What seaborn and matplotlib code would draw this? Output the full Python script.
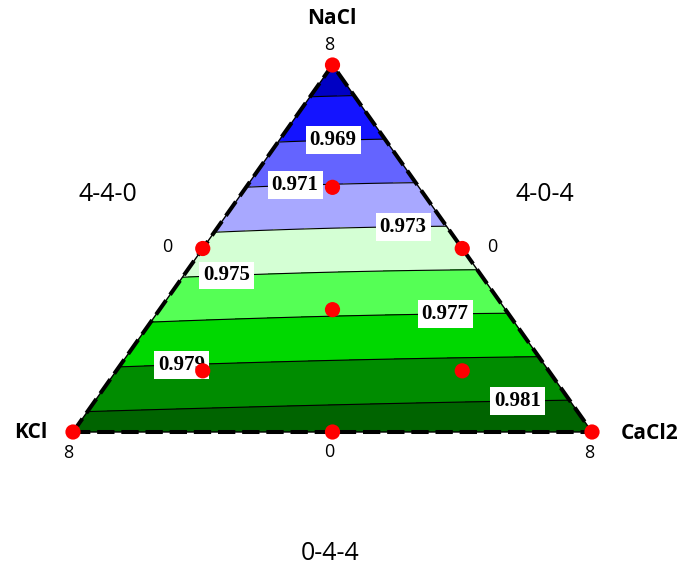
import numpy as np
import pandas as pd
import matplotlib
matplotlib.use("Agg")
import matplotlib.pyplot as plt
from matplotlib.patches import Polygon
import seaborn as sns

# Simplex-lattice design points (component fractions) and measured response
nacl = [1.0, 0.0, 0.0, 0.5, 0.5, 0.0, 1/3, 2/3, 1/6, 1/6]
kcl = [0.0, 1.0, 0.0, 0.5, 0.0, 0.5, 1/3, 1/6, 2/3, 1/6]
cacl2 = [0.0, 0.0, 1.0, 0.0, 0.5, 0.5, 1/3, 1/6, 1/6, 2/3]
response = [0.96557, 0.98193, 0.98247, 0.97371, 0.97400, 0.98223,
            0.97668, 0.97123, 0.97927, 0.97959]

# Contour levels, labelled levels and band colours
levels = [0.967, 0.969, 0.971, 0.973, 0.975, 0.977, 0.979, 0.981]
label_levels = [0.969, 0.971, 0.973, 0.975, 0.977, 0.979, 0.981]
band_colors = ["#0000C4", "#1414FF", "#6464FF", "#A8A8FF", "#D4FFD4",
               "#55FF55", "#00D800", "#008C00", "#006400"]

sns.set_theme(style="white")
plt.rcParams["font.family"] = ["Open Sans", "DejaVu Sans"]
plt.rcParams["text.color"] = "black"


def to_xy(na, ca):
    na = np.asarray(na, float)
    ca = np.asarray(ca, float)
    return ca + na / 2.0, na


def special_cubic_terms(a, b, c):
    return np.column_stack([a, b, c, a * b, a * c, b * c, a * b * c])


# Scheffe special-cubic mixture model fitted to the design responses
A = special_cubic_terms(np.array(nacl), np.array(kcl), np.array(cacl2))
coef, *_ = np.linalg.lstsq(A, np.array(response), rcond=None)

gx, gy = np.meshgrid(np.linspace(-0.05, 1.05, 400), np.linspace(-0.05, 1.05, 400))
g_na = gy
g_ca = gx - gy / 2.0
g_k = 1.0 - g_na - g_ca
Z = (special_cubic_terms(g_na.ravel(), g_k.ravel(), g_ca.ravel()) @ coef).reshape(gx.shape)

fig = plt.figure(figsize=(6.81, 5.66), dpi=100)
ax = fig.add_axes([0, 0, 1, 1])

tri = Polygon([(0, 0), (1, 0), (0.5, 1)], closed=True, facecolor="none",
              edgecolor="none", transform=ax.transData)
ax.add_patch(tri)

cf = ax.contourf(gx, gy, Z, levels=levels, colors=band_colors, extend="both")
cf.set_clip_path(tri)
cl = ax.contour(gx, gy, Z, levels=levels, colors="black", linewidths=0.8)
cl.set_clip_path(tri)

# Invisible contour set carrying only the labelled levels
cl_lab = ax.contour(gx, gy, Z, levels=label_levels, colors="black", linewidths=0)
cl_lab.set_clip_path(tri)

# Triangle outline
tx, ty = [0, 1, 0.5, 0], [0, 0, 1, 0]
ax.plot(tx, ty, color="black", lw=1.0, zorder=3)
ax.plot(tx, ty, color="black", lw=2.9, dashes=(4.3, 1.7), zorder=3,
        solid_capstyle="butt")

# Contour labels in white boxes
label_spots = [(0.501, 0.798), (0.428, 0.673), (0.636, 0.559), (0.295, 0.431),
               (0.717, 0.322), (0.210, 0.180), (0.857, 0.087)]
texts = ax.clabel(cl_lab, manual=label_spots, inline=False,
                  fmt="%.3f", fontsize=15, colors="black")
for t in texts:
    t.set_rotation(0)
    t.set_fontfamily("Liberation Serif")
    t.set_fontweight("bold")
    t.set_bbox(dict(facecolor="white", edgecolor="none", pad=2.8))
    t.set_zorder(4)

# Design points
px, py = to_xy(nacl, cacl2)
pts = pd.DataFrame({"x": px, "y": py})
sns.scatterplot(data=pts, x="x", y="y", ax=ax, color="red", s=120,
                edgecolor="none", zorder=5, clip_on=False, legend=False)
ax.set_xlim(-73 / 519, 608 / 519)
ax.set_ylim(-134 / 367, 432 / 367)
ax.axis("off")

# Component names and scale marks
bold = dict(fontsize=15, fontweight="bold", ha="center", va="center", color="black")
ax.text(0.499, 1.128, "NaCl", **bold)
ax.text(-0.081, 0.0, "KCl", **bold)
ax.text(1.11, -0.003, "CaCl2", **bold)

tick = dict(fontsize=13, ha="center", va="center", color="black")
ax.text(0.493, 1.054, "8", **tick)
ax.text(-0.010, -0.057, "8", **tick)
ax.text(0.994, -0.057, "8", **tick)
ax.text(0.493, -0.054, "0", **tick)
ax.text(0.181, 0.504, "0", **tick)
ax.text(0.807, 0.504, "0", **tick)

big = dict(fontsize=18, ha="center", va="center", color="black")
ax.text(0.067, 0.646, "4-4-0", **big)
ax.text(0.909, 0.646, "4-0-4", **big)
ax.text(0.495, -0.330, "0-4-4", **big)

fig.savefig("out.png", dpi=100)
